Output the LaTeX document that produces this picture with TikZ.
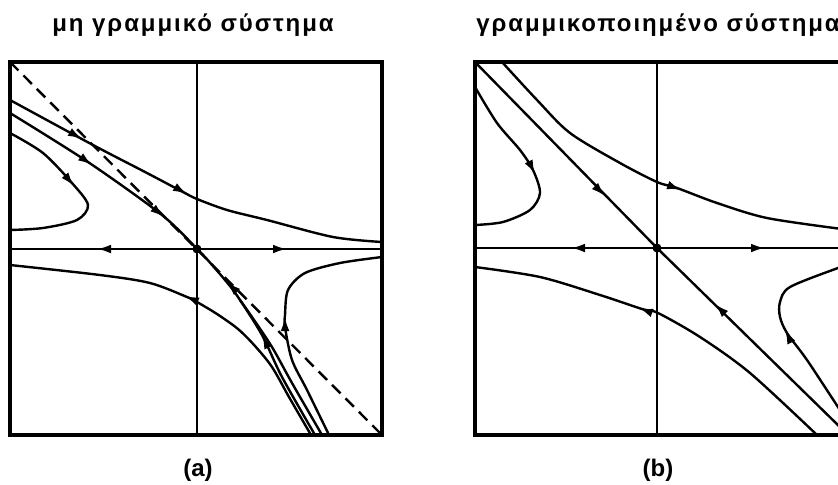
\documentclass[tikz,border=0pt]{standalone}
\usepackage{fontspec}
\setmainfont{Liberation Sans}
\usetikzlibrary{arrows.meta}

\tikzset{
  frame/.style={line width=1.8pt},
  axis/.style={line width=1.4pt},
  orbit/.style={line width=1.2pt},
  tip/.style={line width=1.2pt,-{Latex[length=7pt,width=4.4pt]}},
  title/.style={font=\fontsize{12}{14}\selectfont\bfseries\addfontfeature{LetterSpace=8}},
  tag/.style={font=\fontsize{12}{14}\selectfont\bfseries}
}

\begin{document}
\begin{tikzpicture}[x=0.5pt,y=0.5pt]
\useasboundingbox (0,0) rectangle (838,484);

\node[title] (titleA) at (193,459) {μη γραμμικό σύστημα};
\node[title] (titleB) at (658,459) {γραμμικοποιημένο σύστημα};
\node[tag] (tagA) at (198,14) {(a)};
\node[tag] (tagB) at (658,14) {(b)};

\begin{scope}[shift={(197,235)}]
\draw[frame] (-187,-186) rectangle (185,187);
\draw[axis] (0,-186) -- (0,187);
\draw[axis] (-187,0) -- (185,0);
\draw[orbit,dash pattern=on 6pt off 3.5pt] (-187,187) -- (185,-186);
\draw[orbit] plot[smooth] coordinates
  {(-187,149) (-104,104) (-50,76) (-14,57) (0,50) (30,39) (70,29) (136,12) (185,7)};
\draw[orbit] plot[smooth] coordinates
  {(-187,136) (-109,87) (-35,34) (0,0)};
\draw[orbit] plot[smooth] coordinates
  {(118,-186) (85,-128) (65,-86) (41,-48) (28,-31) (8,-8) (0,0)};
\draw[orbit] plot[smooth] coordinates
  {(125,-186) (95,-134) (75,-98) (55,-68) (43,-51)};
\draw[orbit] plot[smooth] coordinates
  {(-187,116) (-154,96) (-125,66) (-109,44) (-120,29) (-154,21) (-187,19)};
\draw[orbit] plot[smooth] coordinates
  {(114,-186) (92,-148) (75,-118) (58,-97) (41,-80) (20,-65) (0,-53) (-10,-48) (-47,-34) (-97,-26) (-187,-16)};
\draw[orbit] plot[smooth] coordinates
  {(132,-186) (110,-141) (95,-111) (88,-78) (88,-66) (91,-41) (108,-24) (143,-14) (185,-8)};
\foreach \xa/\ya/\xb/\yb in {-92/0/-100/0, 82/0/90/0,
    -122/114/-115/110, -17/59/-10/55, -112/89/-105/84, -39/37/-33/32,
    68/-92/65/-86, 34/-37/30/-33, -128/69/-123/63, -5/-50/-12/-47, 88/-76/88/-68}
  \draw[tip] (\xa,\ya) -- (\xb,\yb);
\fill (0,0) circle (4.5);
\end{scope}

\begin{scope}[shift={(657,236)}]
\clip (-200,-200) rectangle (181,200);
\draw[frame] (-182,-187) rectangle (185,186);
\draw[axis] (0,-187) -- (0,186);
\draw[axis] (-182,0) -- (185,0);
\draw[orbit] (-182,186) -- (0,0) -- (185,-181);
\draw[orbit] plot[smooth] coordinates
  {(-182,161) (-160,125) (-137,98) (-124,78) (-117,55) (-127,38) (-154,26) (-182,23)};
\draw[orbit] plot[smooth] coordinates
  {(-155,186) (-120,148) (-87,115) (-37,85) (0,66) (20,60) (60,45) (110,30) (185,19)};
\draw[orbit] plot[smooth] coordinates
  {(160,-187) (93,-125) (43,-89) (1,-65) (-15,-61) (-57,-47) (-117,-29) (-182,-19)};
\draw[orbit] plot[smooth] coordinates
  {(190,-172) (181,-159) (150,-112) (130,-85) (123,-69) (123,-54) (133,-39) (181,-20) (190,-18)};
\foreach \xa/\ya/\xb/\yb in {-78/0/-86/0, 100/0/108/0,
    -58/58/-52/52, 64/-62/58/-56, -126/82/-122/74, 16/61/24/58,
    -10/-63/-18/-60, 132/-90/128/-82}
  \draw[tip] (\xa,\ya) -- (\xb,\yb);
\fill (0,0) circle (4.5);
\end{scope}
\end{tikzpicture}
\end{document}
